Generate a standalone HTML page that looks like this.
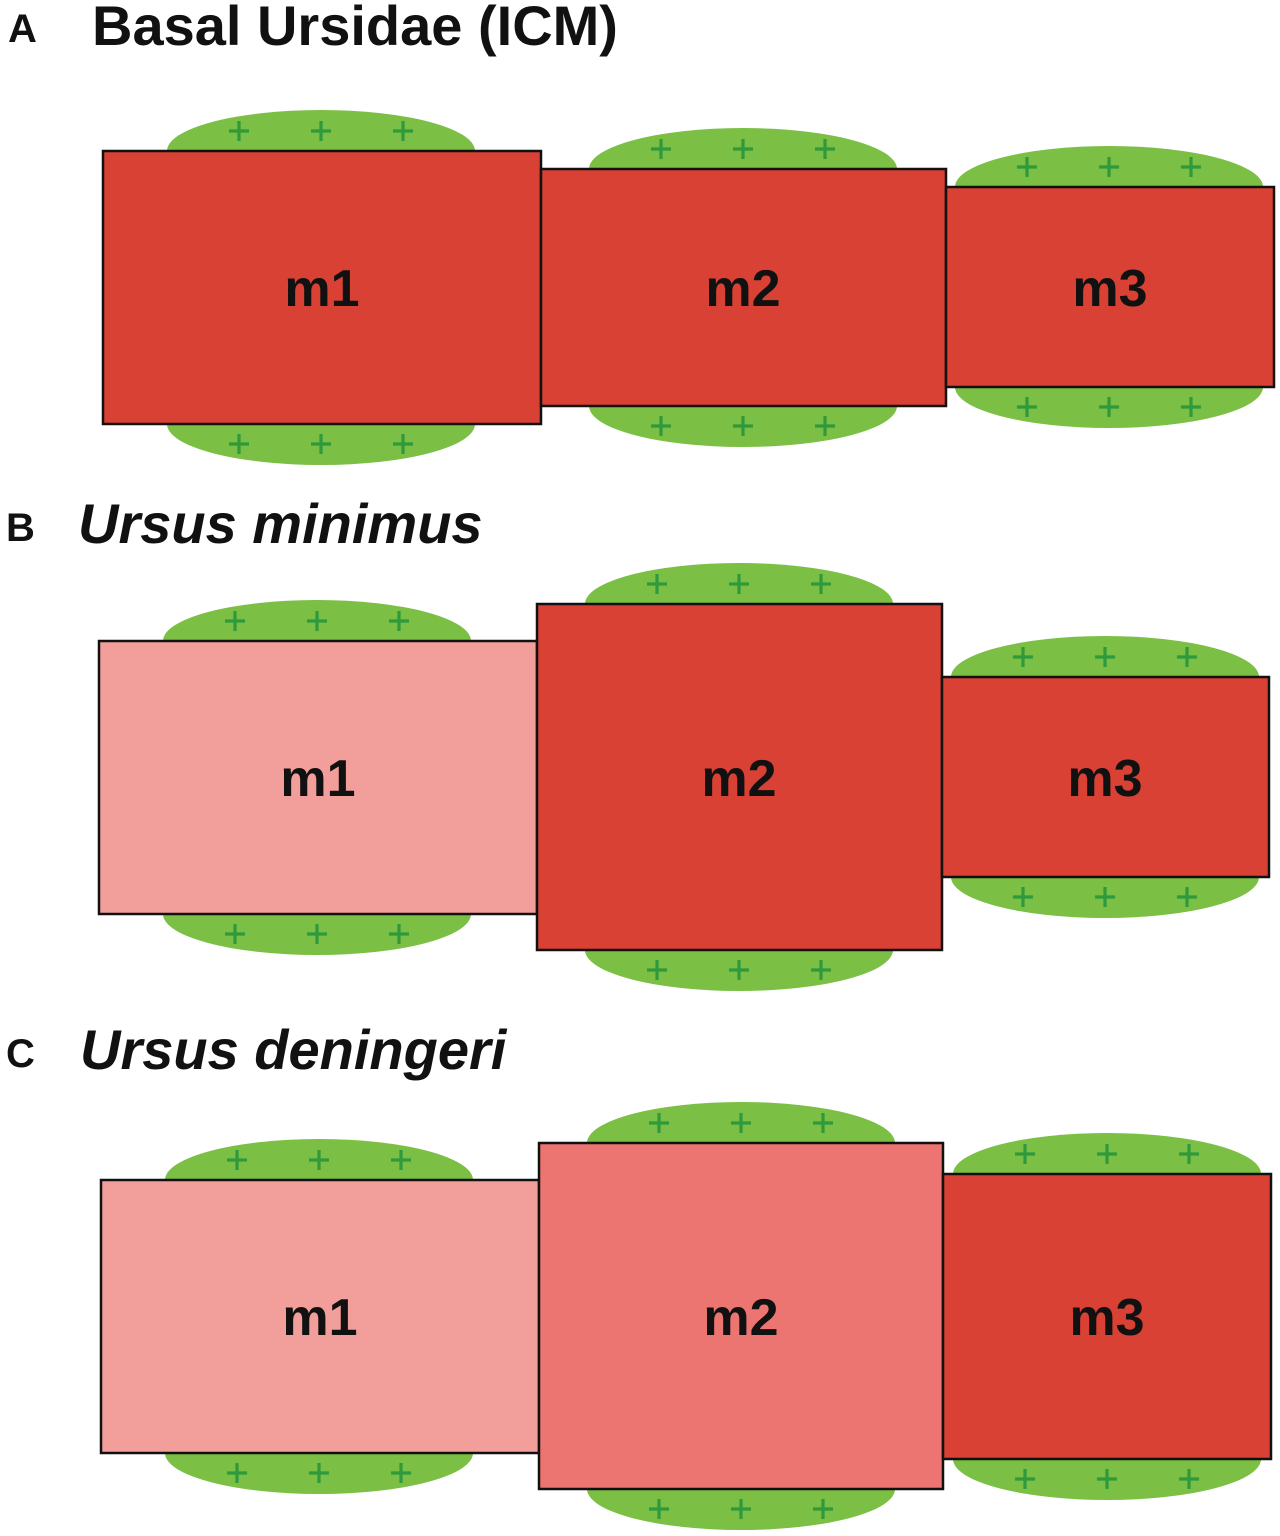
<!DOCTYPE html>
<html><head><meta charset="utf-8"><style>
html,body{margin:0;padding:0;background:#fff;}
svg{display:block;}
text{font-family:"Liberation Sans",Arial,sans-serif;font-weight:bold;fill:#111;}
</style></head><body>
<svg width="1280" height="1536" viewBox="0 0 1280 1536" xmlns="http://www.w3.org/2000/svg">
<defs>
<path id="pl" d="M-10 0H10M0 -10V10" stroke="#2f9a3c" stroke-width="3.2"/>
</defs>
<text x="8" y="42" font-size="40">A</text>
<text x="92" y="45" font-size="56">Basal Ursidae (ICM)</text>
<text x="6" y="541" font-size="40">B</text>
<text x="78" y="543" font-size="56" font-style="italic">Ursus minimus</text>
<text x="6" y="1067" font-size="40">C</text>
<text x="80" y="1069" font-size="56" font-style="italic">Ursus deningeri</text>

<g fill="#7bbf45">
<ellipse cx="321" cy="151" rx="154" ry="41"/><ellipse cx="321" cy="424" rx="154" ry="41"/>
<ellipse cx="743" cy="169" rx="154" ry="41"/><ellipse cx="743" cy="406" rx="154" ry="41"/>
<ellipse cx="1109" cy="187" rx="154" ry="41"/><ellipse cx="1109" cy="387" rx="154" ry="41"/>
<ellipse cx="317" cy="641" rx="154" ry="41"/><ellipse cx="317" cy="914" rx="154" ry="41"/>
<ellipse cx="739" cy="604" rx="154" ry="41"/><ellipse cx="739" cy="950" rx="154" ry="41"/>
<ellipse cx="1105" cy="677" rx="154" ry="41"/><ellipse cx="1105" cy="877" rx="154" ry="41"/>
<ellipse cx="319" cy="1180" rx="154" ry="41"/><ellipse cx="319" cy="1453" rx="154" ry="41"/>
<ellipse cx="741" cy="1143" rx="154" ry="41"/><ellipse cx="741" cy="1489" rx="154" ry="41"/>
<ellipse cx="1107" cy="1174" rx="154" ry="41"/><ellipse cx="1107" cy="1459" rx="154" ry="41"/>
</g>
<g>
<use href="#pl" x="239" y="131"/><use href="#pl" x="321" y="131"/><use href="#pl" x="403" y="131"/>
<use href="#pl" x="239" y="444"/><use href="#pl" x="321" y="444"/><use href="#pl" x="403" y="444"/>
<use href="#pl" x="661" y="149"/><use href="#pl" x="743" y="149"/><use href="#pl" x="825" y="149"/>
<use href="#pl" x="661" y="426"/><use href="#pl" x="743" y="426"/><use href="#pl" x="825" y="426"/>
<use href="#pl" x="1027" y="167"/><use href="#pl" x="1109" y="167"/><use href="#pl" x="1191" y="167"/>
<use href="#pl" x="1027" y="407"/><use href="#pl" x="1109" y="407"/><use href="#pl" x="1191" y="407"/>

<use href="#pl" x="235" y="621"/><use href="#pl" x="317" y="621"/><use href="#pl" x="399" y="621"/>
<use href="#pl" x="235" y="934"/><use href="#pl" x="317" y="934"/><use href="#pl" x="399" y="934"/>
<use href="#pl" x="657" y="584"/><use href="#pl" x="739" y="584"/><use href="#pl" x="821" y="584"/>
<use href="#pl" x="657" y="970"/><use href="#pl" x="739" y="970"/><use href="#pl" x="821" y="970"/>
<use href="#pl" x="1023" y="657"/><use href="#pl" x="1105" y="657"/><use href="#pl" x="1187" y="657"/>
<use href="#pl" x="1023" y="897"/><use href="#pl" x="1105" y="897"/><use href="#pl" x="1187" y="897"/>

<use href="#pl" x="237" y="1160"/><use href="#pl" x="319" y="1160"/><use href="#pl" x="401" y="1160"/>
<use href="#pl" x="237" y="1473"/><use href="#pl" x="319" y="1473"/><use href="#pl" x="401" y="1473"/>
<use href="#pl" x="659" y="1123"/><use href="#pl" x="741" y="1123"/><use href="#pl" x="823" y="1123"/>
<use href="#pl" x="659" y="1509"/><use href="#pl" x="741" y="1509"/><use href="#pl" x="823" y="1509"/>
<use href="#pl" x="1025" y="1154"/><use href="#pl" x="1107" y="1154"/><use href="#pl" x="1189" y="1154"/>
<use href="#pl" x="1025" y="1479"/><use href="#pl" x="1107" y="1479"/><use href="#pl" x="1189" y="1479"/>
</g>
<g stroke="#111" stroke-width="2.5">
<rect x="103" y="151" width="438" height="273" fill="#d94134"/>
<rect x="541" y="169" width="405" height="237" fill="#d94134"/>
<rect x="946" y="187" width="328" height="200" fill="#d94134"/>
<rect x="99" y="641" width="438" height="273" fill="#f29f9b"/>
<rect x="537" y="604" width="405" height="346" fill="#d94134"/>
<rect x="942" y="677" width="327" height="200" fill="#d94134"/>
<rect x="101" y="1180" width="438" height="273" fill="#f29f9b"/>
<rect x="539" y="1143" width="404" height="346" fill="#ec7471"/>
<rect x="943" y="1174" width="328" height="285" fill="#d94134"/>
</g>
<g font-size="52" text-anchor="middle">
<text x="322" y="306">m1</text><text x="743" y="306">m2</text><text x="1110" y="306">m3</text>
<text x="318" y="796">m1</text><text x="739" y="796">m2</text><text x="1105" y="796">m3</text>
<text x="320" y="1335">m1</text><text x="741" y="1335">m2</text><text x="1107" y="1335">m3</text>
</g>
</svg>
</body></html>
